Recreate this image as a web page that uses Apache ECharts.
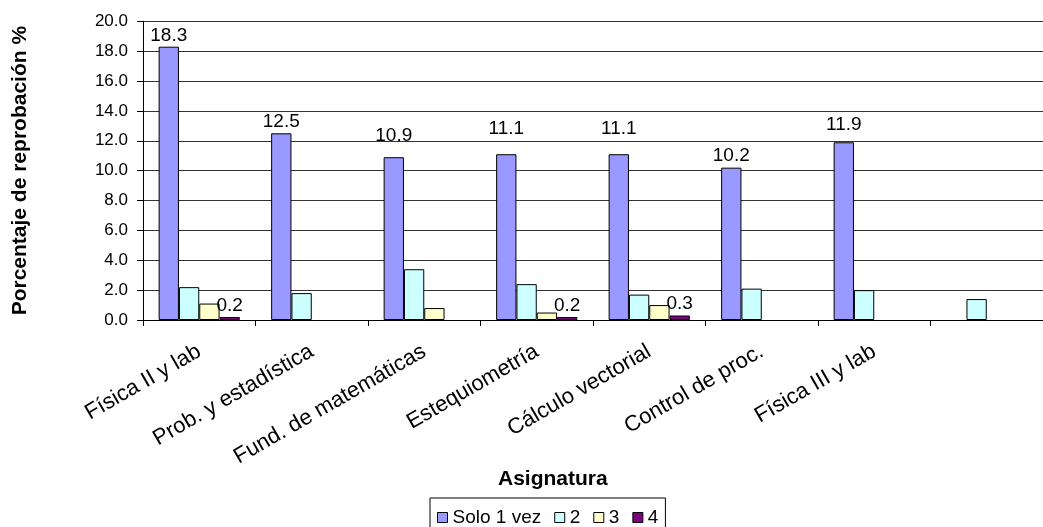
<!DOCTYPE html>
<html>
<head>
<meta charset="utf-8">
<script src="https://cdn.jsdelivr.net/npm/echarts@6/dist/echarts.min.js"></script>
<style>
  html, body { margin: 0; padding: 0; background: #fff; }
  #chart { width: 1043px; height: 527px; }
</style>
</head>
<body>
<div id="chart"></div>
<script>
// Asignaturas (the last slot has no name)
const categories = ['Física II y lab', 'Prob. y estadística', 'Fund. de matemáticas',
  'Estequiometría', 'Cálculo vectorial', 'Control de proc.', 'Física III y lab', ''];

// Porcentaje de reprobación por número de veces reprobada
const soloUnaVez = [18.3, 12.5, 10.9, 11.1, 11.1, 10.2, 11.9, null];
const dosVeces   = [2.2, 1.8, 3.4, 2.4, 1.7, 2.1, 2.0, 1.4];
const tresVeces  = [1.1, null, 0.8, 0.5, 1.0, null, null, null];
const cuatroVeces = [0.2, null, null, 0.2, 0.3, null, null, null];

const seriesNames = ['Solo 1 vez', '2', '3', '4'];
const yTicks = { min: 0, max: 20, interval: 2 };

// extra lift (px) for each "Solo 1 vez" value label
const soloLabelLift = [0, 1, 11, 14.5, 14.5, 1, 7.5, 0];

const FONT = '"Liberation Sans", Arial, sans-serif';
const colors = ['#9999FF', '#CCFFFF', '#FFFFCC', '#800080'];

const fmt = v => (v == null ? '' : Number(v).toFixed(1));

function barSeries(name, values, color, labelled, lifts) {
  return {
    name: name,
    type: 'bar',
    barGap: '0%',
    barCategoryGap: '27.8%',
    itemStyle: { color: color, borderColor: '#000', borderWidth: 1 },
    emphasis: { disabled: true },
    data: values.map((v, i) => {
      const item = { value: v };
      if (labelled && v != null) {
        item.label = {
          show: true,
          position: 'top',
          distance: 1 + (lifts ? lifts[i] : 1),
          formatter: p => fmt(p.value),
          color: '#000',
          fontFamily: FONT,
          fontSize: 19
        };
      }
      return item;
    })
  };
}

const chart = echarts.init(document.getElementById('chart'), null, { renderer: 'canvas' });

chart.setOption({
  animation: false,
  backgroundColor: '#fff',
  textStyle: { fontFamily: FONT, color: '#000' },
  title: {
    text: 'Asignatura',
    left: 498,
    top: 469,
    padding: 0,
    textStyle: { fontFamily: FONT, fontSize: 21, fontWeight: 'bold', color: '#000' }
  },
  legend: {
    data: seriesNames,
    left: 430,
    top: 498,
    padding: [10, 7, 10, 7],
    itemGap: 13,
    itemWidth: 10,
    itemHeight: 10,
    borderColor: '#000',
    borderWidth: 1,
    icon: 'rect',
    selectedMode: false,
    itemStyle: { borderColor: '#000', borderWidth: 1 },
    textStyle: { fontFamily: FONT, fontSize: 19, color: '#000' }
  },
  grid: {
    left: 143,
    top: 21.3,
    width: 913.5,
    bottom: 207,
    containLabel: false
  },
  xAxis: {
    type: 'category',
    data: categories,
    boundaryGap: true,
    axisLine: { lineStyle: { color: '#000', width: 1 } },
    axisTick: { show: true, length: 6, alignWithLabel: false, lineStyle: { color: '#000' } },
    axisLabel: {
      rotate: 30,
      interval: 0,
      margin: 30,
      fontFamily: FONT,
      fontSize: 22,
      color: '#000'
    },
    splitLine: { show: false }
  },
  yAxis: {
    type: 'value',
    min: yTicks.min,
    max: yTicks.max,
    interval: yTicks.interval,
    name: 'Porcentaje de reprobación %',
    nameLocation: 'middle',
    nameGap: 112,
    nameRotate: 90,
    nameTextStyle: { fontFamily: FONT, fontSize: 21, fontWeight: 'bold', color: '#000' },
    axisLine: { show: true, lineStyle: { color: '#000', width: 1 } },
    axisTick: { show: true, length: 6, lineStyle: { color: '#000' } },
    axisLabel: {
      formatter: v => v.toFixed(1),
      margin: 15,
      fontFamily: FONT,
      fontSize: 17,
      color: '#000'
    },
    splitLine: { show: true, lineStyle: { color: '#333', width: 1 } }
  },
  series: [
    barSeries(seriesNames[0], soloUnaVez, colors[0], true, soloLabelLift),
    barSeries(seriesNames[1], dosVeces, colors[1], false),
    barSeries(seriesNames[2], tresVeces, colors[2], false),
    barSeries(seriesNames[3], cuatroVeces, colors[3], true)
  ]
});
</script>
</body>
</html>
